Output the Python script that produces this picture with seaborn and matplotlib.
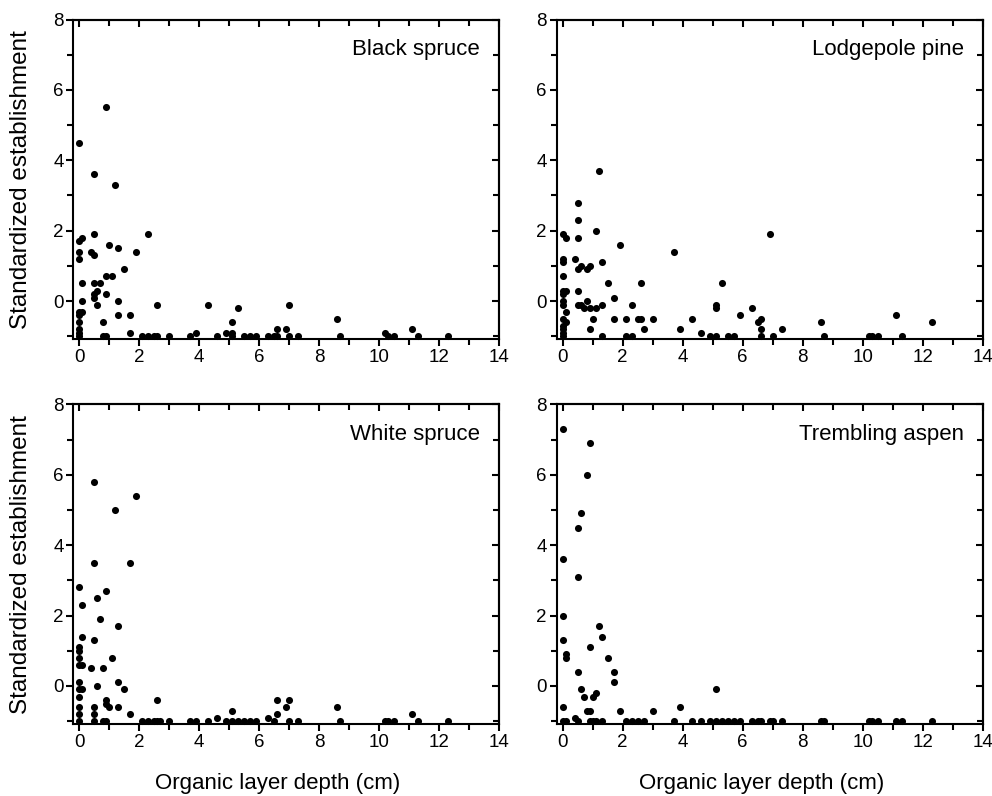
import matplotlib
matplotlib.use("Agg")
import matplotlib.pyplot as plt
from matplotlib.ticker import MultipleLocator
import pandas as pd
import seaborn as sns

# (organic layer depth cm, standardized establishment)
black_spruce = [
    (0.9, 5.5), (0.0, 4.5), (0.5, 3.6), (1.2, 3.3), (0.5, 1.9), (2.3, 1.9),
    (0.0, 1.7), (0.1, 1.8), (0.0, 1.4), (0.0, 1.2), (0.4, 1.4), (0.5, 1.3),
    (1.0, 1.6), (1.3, 1.5), (1.9, 1.4), (1.5, 0.9), (0.9, 0.7), (1.1, 0.7),
    (0.1, 0.5), (0.5, 0.5), (0.7, 0.5), (0.6, 0.3), (0.5, 0.2), (0.5, 0.1),
    (0.9, 0.2), (0.1, 0.0), (1.3, 0.0), (0.6, -0.1), (2.6, -0.1), (4.3, -0.1),
    (7.0, -0.1), (5.3, -0.2), (0.0, -0.3), (0.1, -0.3), (0.0, -0.4), (1.3, -0.4),
    (1.7, -0.4), (0.0, -0.6), (0.8, -0.6), (5.1, -0.6), (0.0, -0.8), (0.0, -0.9),
    (6.6, -0.8), (6.9, -0.8), (1.7, -0.9), (3.9, -0.9), (4.9, -0.9), (5.1, -0.9),
    (8.6, -0.5), (10.2, -0.9), (11.1, -0.8),
    (0.0, -1.0), (0.8, -1.0), (0.9, -1.0), (2.1, -1.0), (2.3, -1.0), (2.5, -1.0),
    (2.6, -1.0), (3.0, -1.0), (3.7, -1.0), (4.6, -1.0), (5.1, -1.0), (5.5, -1.0),
    (5.7, -1.0), (5.9, -1.0), (6.3, -1.0), (6.5, -1.0), (6.6, -1.0), (7.0, -1.0),
    (7.3, -1.0), (8.7, -1.0), (10.3, -1.0), (10.5, -1.0), (11.3, -1.0), (12.3, -1.0),
]

lodgepole_pine = [
    (1.2, 3.7), (0.5, 2.8), (0.5, 2.3), (0.5, 1.8), (1.1, 2.0), (1.9, 1.6),
    (3.7, 1.4), (6.9, 1.9), (0.4, 1.2), (0.5, 0.9), (0.6, 1.0), (0.8, 0.9),
    (0.9, 1.0), (1.3, 1.1), (1.5, 0.5), (2.6, 0.5), (5.3, 0.5), (0.5, 0.3),
    (1.7, 0.1), (0.8, 0.0), (0.5, -0.1), (0.6, -0.1), (0.7, -0.2), (0.9, -0.2),
    (1.1, -0.2), (1.3, -0.1), (2.3, -0.1), (5.1, -0.1), (5.1, -0.2), (6.3, -0.2),
    (5.9, -0.4), (1.0, -0.5), (1.7, -0.5), (2.1, -0.5), (2.5, -0.5), (2.6, -0.5),
    (3.0, -0.5), (4.3, -0.5), (6.5, -0.6), (6.6, -0.5), (0.9, -0.8), (2.7, -0.8),
    (3.9, -0.8), (6.6, -0.8), (7.3, -0.8), (4.6, -0.9), (8.6, -0.6), (11.1, -0.4),
    (12.3, -0.6),
    (0.0, 1.9), (0.1, 1.8), (0.0, 1.2), (0.0, 1.1), (0.0, 0.7), (0.0, 0.3),
    (0.1, 0.3), (0.0, 0.2), (0.0, 0.0), (0.0, -0.1), (0.1, -0.3), (0.0, -0.5),
    (0.1, -0.6), (0.0, -0.7), (0.0, -0.8), (0.0, -0.9),
    (0.0, -1.0), (1.3, -1.0), (2.1, -1.0), (2.3, -1.0), (4.9, -1.0), (5.1, -1.0),
    (5.5, -1.0), (5.7, -1.0), (6.6, -1.0), (7.0, -1.0), (8.7, -1.0), (10.2, -1.0),
    (10.3, -1.0), (10.5, -1.0), (11.3, -1.0),
]

white_spruce = [
    (0.5, 5.8), (1.9, 5.4), (1.2, 5.0), (0.5, 3.5), (1.7, 3.5), (0.0, 2.8),
    (0.9, 2.7), (0.6, 2.5), (0.1, 2.3), (0.7, 1.9), (1.3, 1.7), (0.1, 1.4),
    (0.5, 1.3), (0.0, 1.1), (0.0, 1.0), (0.0, 0.8), (1.1, 0.8), (0.0, 0.6),
    (0.1, 0.6), (0.4, 0.5), (0.8, 0.5), (0.0, 0.1), (1.3, 0.1), (0.6, 0.0),
    (0.0, -0.1), (0.1, -0.1), (1.5, -0.1), (0.0, -0.3), (0.9, -0.4), (0.9, -0.5),
    (1.0, -0.6), (2.6, -0.4), (0.0, -0.6), (0.5, -0.6), (1.3, -0.6), (0.0, -0.8),
    (0.5, -0.8), (1.7, -0.8), (5.1, -0.7), (4.6, -0.9), (6.3, -0.9), (6.6, -0.4),
    (6.6, -0.8), (6.9, -0.6), (7.0, -0.4), (8.6, -0.6), (11.1, -0.8),
    (0.0, -1.0), (0.5, -1.0), (0.8, -1.0), (0.9, -1.0), (2.1, -1.0), (2.3, -1.0),
    (2.5, -1.0), (2.6, -1.0), (2.7, -1.0), (3.0, -1.0), (3.7, -1.0), (3.9, -1.0),
    (4.3, -1.0), (4.9, -1.0), (5.1, -1.0), (5.3, -1.0), (5.5, -1.0), (5.7, -1.0),
    (5.9, -1.0), (6.5, -1.0), (7.0, -1.0), (7.3, -1.0), (8.7, -1.0), (10.2, -1.0),
    (10.3, -1.0), (10.5, -1.0), (11.3, -1.0), (12.3, -1.0),
]

trembling_aspen = [
    (0.0, 7.3), (0.9, 6.9), (0.8, 6.0), (0.6, 4.9), (0.5, 4.5), (0.0, 3.6),
    (0.5, 3.1), (0.0, 2.0), (1.2, 1.7), (1.3, 1.4), (0.0, 1.3), (0.9, 1.1),
    (0.1, 0.9), (0.1, 0.8), (1.5, 0.8), (0.5, 0.4), (1.7, 0.4), (1.7, 0.1),
    (0.6, -0.1), (0.7, -0.3), (1.0, -0.3), (1.1, -0.2), (5.1, -0.1), (0.0, -0.6),
    (3.9, -0.6), (0.8, -0.7), (0.9, -0.7), (1.9, -0.7), (3.0, -0.7), (0.4, -0.9),
    (0.0, -1.0), (0.1, -1.0), (0.5, -1.0), (0.9, -1.0), (1.0, -1.0), (1.1, -1.0),
    (1.3, -1.0), (2.1, -1.0), (2.3, -1.0), (2.5, -1.0), (2.7, -1.0), (3.7, -1.0),
    (4.3, -1.0), (4.6, -1.0), (4.9, -1.0), (5.1, -1.0), (5.3, -1.0), (5.5, -1.0),
    (5.7, -1.0), (5.9, -1.0), (6.3, -1.0), (6.5, -1.0), (6.6, -1.0), (6.9, -1.0),
    (7.0, -1.0), (7.3, -1.0), (8.6, -1.0), (8.7, -1.0), (10.2, -1.0), (10.3, -1.0),
    (10.5, -1.0), (11.1, -1.0), (11.3, -1.0), (12.3, -1.0),
]

species = ["Black spruce", "Lodgepole pine", "White spruce", "Trembling aspen"]
panels = [black_spruce, lodgepole_pine, white_spruce, trembling_aspen]
x_ticks = [0, 2, 4, 6, 8, 10, 12, 14]
y_ticks = [0, 2, 4, 6, 8]

sns.set_style("ticks")
plt.rcParams["font.family"] = ["Liberation Sans", "DejaVu Sans"]
plt.rcParams.update({"text.color": "black", "axes.labelcolor": "black",
                     "xtick.color": "black", "ytick.color": "black"})

fig = plt.figure(figsize=(9.92, 7.96), dpi=100)
boxes = [
    [0.0739, 0.574, 0.4294, 0.4015],
    [0.5612, 0.574, 0.4294, 0.4015],
    [0.0739, 0.0905, 0.4294, 0.4015],
    [0.5612, 0.0905, 0.4294, 0.4015],
]

for i, (name, pts, box) in enumerate(zip(species, panels, boxes)):
    ax = fig.add_axes(box)
    df = pd.DataFrame(pts, columns=["depth", "estab"])
    sns.scatterplot(data=df, x="depth", y="estab", ax=ax, color="black",
                    s=26, linewidth=0, clip_on=False, zorder=3)
    ax.set_xlim(-0.2, 14)
    ax.set_ylim(-1.08, 8)
    ax.set_xticks(x_ticks)
    ax.set_yticks(y_ticks)
    ax.xaxis.set_minor_locator(MultipleLocator(1))
    ax.yaxis.set_minor_locator(MultipleLocator(1))
    ax.tick_params(which="both", direction="out", width=1.5, labelsize=13.5,
                   color="black", labelcolor="black", pad=2)
    ax.tick_params(which="major", length=5)
    ax.tick_params(which="minor", length=4)
    for sp in ax.spines.values():
        sp.set_visible(True)
        sp.set_linewidth(1.5)
        sp.set_color("black")

    # inward ticks on the top and right frame
    top = ax.secondary_xaxis("top")
    top.set_xticks(x_ticks)
    top.xaxis.set_minor_locator(MultipleLocator(1))
    top.tick_params(which="both", direction="in", width=1.5, labeltop=False)
    top.tick_params(which="major", length=5)
    top.tick_params(which="minor", length=4)
    top.spines["top"].set_linewidth(1.5)
    right = ax.secondary_yaxis("right")
    right.set_yticks(y_ticks)
    right.yaxis.set_minor_locator(MultipleLocator(1))
    right.tick_params(which="both", direction="in", width=1.5, labelright=False)
    right.tick_params(which="major", length=5)
    right.tick_params(which="minor", length=4)
    right.spines["right"].set_linewidth(1.5)

    if i % 2 == 0:
        ax.set_ylabel("Standardized establishment", fontsize=17.5)
        ax.yaxis.set_label_coords(-0.097, 0.5)
    else:
        ax.set_ylabel("")
    if i >= 2:
        ax.set_xlabel("Organic layer depth (cm)", fontsize=16)
        ax.xaxis.set_label_coords(0.48, -0.155)
    else:
        ax.set_xlabel("")

    ax.text(0.955, 0.905, name, transform=ax.transAxes, ha="right",
            va="center", fontsize=16, color="black")

fig.savefig("out.png", dpi=100)
